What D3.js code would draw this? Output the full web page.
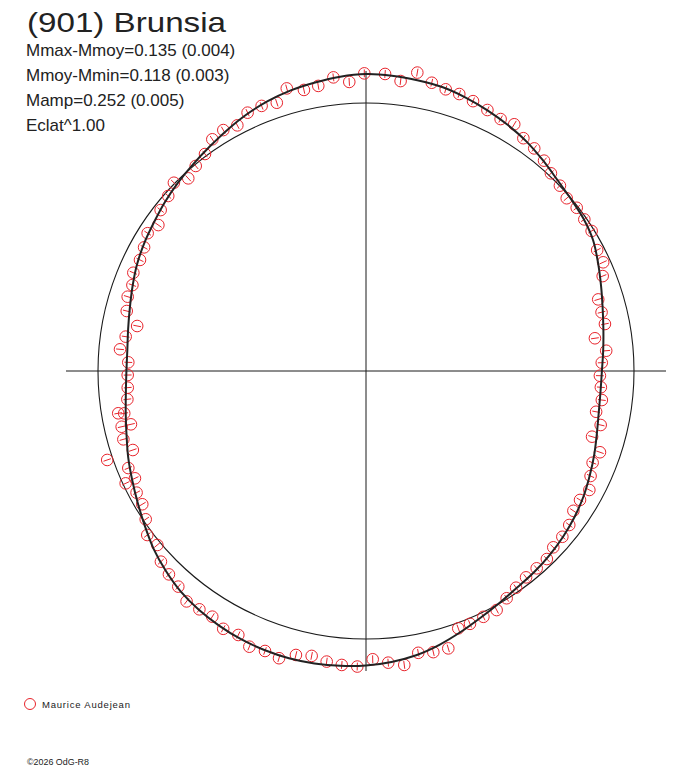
<!DOCTYPE html>
<html>
<head>
<meta charset="utf-8">
<script src="https://cdn.jsdelivr.net/npm/d3@7"></script>
<style>
  html, body { margin: 0; padding: 0; background: #ffffff; }
  svg { display: block; }
  text { font-family: "Liberation Sans", Arial, sans-serif; fill: #222; }
</style>
</head>
<body>
<svg id="chart" width="688" height="768"></svg>
<script>
// ---- data ----
const title = "(901) Brunsia";
const infoLines = ["Mmax-Mmoy=0.135 (0.004)", "Mmoy-Mmin=0.118 (0.003)", "Mamp=0.252 (0.005)", "Eclat^1.00"];
const observer = "Maurice Audejean";
const credit = "\u00A92026 OdG-R8";

// observed points: rotational phase and magnitude relative to mean (mag)
const obsPhase = [0.9991,0.0102,0.0189,0.0271,0.0357,0.0439,0.0517,0.0601,0.0693,0.0781,
  0.0861,0.0946,0.1030,0.1118,0.1197,0.1286,0.1369,0.1451,0.1534,0.1616,
  0.1733,0.1816,0.1893,0.2024,0.2111,0.2191,0.2274,0.2366,0.2444,0.2532,
  0.2610,0.2695,0.2779,0.2860,0.2950,0.3032,0.3112,0.3196,0.3279,0.3363,
  0.3444,0.3532,0.3616,0.3702,0.3781,0.3865,0.3950,0.4036,0.4118,0.4204,
  0.4291,0.4379,0.4452,0.4541,0.4626,0.4708,0.4794,0.4879,0.4963,0.5047,
  0.5131,0.5214,0.5300,0.5385,0.5468,0.5551,0.5637,0.5717,0.5805,0.5890,
  0.5971,0.6053,0.6140,0.6225,0.6308,0.6394,0.6476,0.6557,0.6645,0.6724,
  0.6804,0.6808,0.6883,0.6973,0.6980,0.7063,0.7143,0.7145,0.7224,0.7231,
  0.7312,0.7389,0.7473,0.7558,0.7640,0.7726,0.7809,0.7891,0.7981,0.8061,
  0.8136,0.8227,0.8309,0.8396,0.8475,0.8558,0.8653,0.8734,0.8814,0.8897,
  0.8984,0.9068,0.9149,0.9232,0.9316,0.9403,0.9489,0.9565,0.9654,0.9736,
  0.9824,0.9908];
const obsMag = [-0.121,-0.121,-0.098,-0.142,-0.113,-0.101,-0.099,-0.091,-0.081,-0.072,
  -0.081,-0.053,-0.045,-0.031,-0.011,-0.001,0.013,0.006,0.009,0.010,
  0.029,0.029,0.053,0.102,0.103,0.100,0.150,0.110,0.131,0.139,
  0.133,0.124,0.140,0.111,0.133,0.083,0.096,0.082,0.061,0.074,
  0.073,0.053,0.045,0.044,0.029,0.029,0.028,0.018,0.003,-0.018,
  -0.018,-0.022,-0.022,-0.087,-0.086,-0.076,-0.116,-0.100,-0.083,-0.113,
  -0.110,-0.103,-0.090,-0.100,-0.131,-0.121,-0.128,-0.103,-0.109,-0.089,
  -0.093,-0.098,-0.073,-0.062,-0.049,-0.015,-0.022,0.010,0.031,0.034,
  0.011,0.054,0.046,-0.023,0.089,0.065,0.071,0.110,0.092,0.068,
  0.113,0.119,0.121,0.123,0.086,0.103,0.142,0.087,0.075,0.078,
  0.063,0.066,0.057,0.040,0.058,0.029,0.016,-0.004,0.024,0.006,
  -0.009,-0.041,-0.049,-0.038,-0.066,-0.069,-0.060,-0.104,-0.081,-0.086,
  -0.112,-0.088];
const obsErr = 0.016;

// fitted light curve (phase, relative magnitude)
const modelPhase = [0,0.0139,0.0278,0.0417,0.0556,0.0694,0.0833,0.0972,0.1111,0.125,
  0.1389,0.1528,0.1667,0.1806,0.1944,0.2083,0.2222,0.2361,0.25,0.2639,
  0.2778,0.2917,0.3056,0.3194,0.3333,0.3472,0.3611,0.375,0.3889,0.4028,
  0.4167,0.4306,0.4444,0.4583,0.4722,0.4861,0.5,0.5139,0.5278,0.5417,
  0.5556,0.5694,0.5833,0.5972,0.6111,0.625,0.6389,0.6528,0.6667,0.6806,
  0.6944,0.7083,0.7222,0.7361,0.75,0.7639,0.7778,0.7917,0.8056,0.8194,
  0.8333,0.8472,0.8611,0.875,0.8889,0.9028,0.9167,0.9306,0.9444,0.9583,
  0.9722,0.9861];
const modelMag = [-0.118,-0.116,-0.111,-0.106,-0.094,-0.080,-0.065,-0.049,-0.029,-0.010,
  0.002,0.010,0.024,0.049,0.073,0.094,0.110,0.122,0.131,0.133,
  0.129,0.118,0.102,0.086,0.069,0.055,0.043,0.033,0.024,0.016,
  0.002,-0.016,-0.039,-0.063,-0.084,-0.098,-0.108,-0.114,-0.118,-0.120,
  -0.118,-0.114,-0.106,-0.096,-0.082,-0.061,-0.037,-0.008,0.018,0.041,
  0.061,0.082,0.098,0.110,0.116,0.116,0.108,0.096,0.080,0.063,
  0.049,0.037,0.022,0.008,-0.006,-0.022,-0.041,-0.061,-0.078,-0.092,
  -0.102,-0.112];

// ---- layout ----
const cx = 366, cy = 371;
const axisHalf = 300;
const svg = d3.select("#chart");
const g = svg.append("g").attr("transform", `translate(${cx},${cy})`);

const angle = d3.scaleLinear().domain([0, 1]).range([0, 2 * Math.PI]);
// brighter (negative relative mag) -> larger radius
const radius = d3.scaleLinear().domain([0.2, -0.2]).range([268 - 49, 268 + 49]);

// axes through the centre
g.append("line").attr("x1", -axisHalf).attr("x2", axisHalf).attr("y1", 0).attr("y2", 0)
  .attr("stroke", "#1a1a1a").attr("stroke-width", 1);
g.append("line").attr("x1", 0).attr("x2", 0).attr("y1", -axisHalf).attr("y2", axisHalf)
  .attr("stroke", "#1a1a1a").attr("stroke-width", 1);

// mean magnitude circle
g.append("circle").attr("r", radius(0)).attr("fill", "none")
  .attr("stroke", "#1a1a1a").attr("stroke-width", 1.1);

// observations
const obs = obsPhase.map((p, i) => ({ p, m: obsMag[i] }));
const pts = g.append("g");
obs.forEach(d => {
  const a = angle(d.p);
  const c = d3.pointRadial(a, radius(d.m));
  const e1 = d3.pointRadial(a, radius(d.m - obsErr));
  const e2 = d3.pointRadial(a, radius(d.m + obsErr));
  pts.append("line").attr("x1", e1[0]).attr("y1", e1[1]).attr("x2", e2[0]).attr("y2", e2[1])
    .attr("stroke", "#e8242c").attr("stroke-width", 1);
  pts.append("circle").attr("cx", c[0]).attr("cy", c[1]).attr("r", 5.8)
    .attr("fill", "none").attr("stroke", "#e8242c").attr("stroke-width", 1);
});

// fitted curve
const model = modelPhase.map((p, i) => ({ p, m: modelMag[i] }));
const line = d3.lineRadial()
  .angle(d => angle(d.p))
  .radius(d => radius(d.m))
  .curve(d3.curveCatmullRomClosed);
g.append("path").datum(model).attr("d", line)
  .attr("fill", "none").attr("stroke", "#222").attr("stroke-width", 2);

// ---- texts ----
svg.append("text").attr("x", 27).attr("y", 32).attr("font-size", 28)
  .attr("textLength", 199).attr("lengthAdjust", "spacingAndGlyphs").text(title);
infoLines.forEach((t, i) => {
  svg.append("text").attr("x", 26).attr("y", 56 + i * 25).attr("font-size", 17).text(t);
});

// legend
svg.append("circle").attr("cx", 30).attr("cy", 704).attr("r", 5.5)
  .attr("fill", "none").attr("stroke", "#e8242c").attr("stroke-width", 1);
svg.append("text").attr("x", 42).attr("y", 708).attr("font-size", 9.5)
  .attr("textLength", 88).attr("lengthAdjust", "spacing").text(observer);

svg.append("text").attr("x", 27).attr("y", 765).attr("font-size", 8.5)
  .attr("textLength", 62).attr("lengthAdjust", "spacingAndGlyphs").text(credit);
</script>
</body>
</html>
